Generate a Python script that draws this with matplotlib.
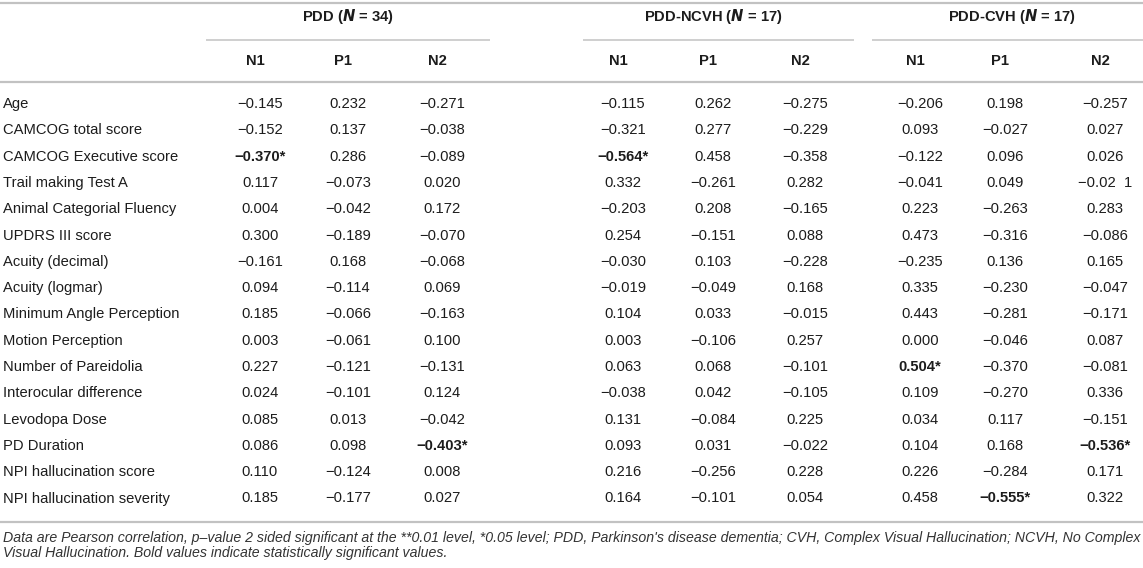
import matplotlib.pyplot as plt

# Table content
groups = ["PDD", "PDD-NCVH", "PDD-CVH"]
group_n = [34, 17, 17]
components = ["N1", "P1", "N2"]

row_labels = [
    "Age", "CAMCOG total score", "CAMCOG Executive score", "Trail making Test A",
    "Animal Categorial Fluency", "UPDRS III score", "Acuity (decimal)",
    "Acuity (logmar)", "Minimum Angle Perception", "Motion Perception",
    "Number of Pareidolia", "Interocular difference", "Levodopa Dose",
    "PD Duration", "NPI hallucination score", "NPI hallucination severity",
]

values = [
    ["−0.145", "0.232", "−0.271", "−0.115", "0.262", "−0.275", "−0.206", "0.198", "−0.257"],
    ["−0.152", "0.137", "−0.038", "−0.321", "0.277", "−0.229", "0.093", "−0.027", "0.027"],
    ["−0.370*", "0.286", "−0.089", "−0.564*", "0.458", "−0.358", "−0.122", "0.096", "0.026"],
    ["0.117", "−0.073", "0.020", "0.332", "−0.261", "0.282", "−0.041", "0.049", "−0.02  1"],
    ["0.004", "−0.042", "0.172", "−0.203", "0.208", "−0.165", "0.223", "−0.263", "0.283"],
    ["0.300", "−0.189", "−0.070", "0.254", "−0.151", "0.088", "0.473", "−0.316", "−0.086"],
    ["−0.161", "0.168", "−0.068", "−0.030", "0.103", "−0.228", "−0.235", "0.136", "0.165"],
    ["0.094", "−0.114", "0.069", "−0.019", "−0.049", "0.168", "0.335", "−0.230", "−0.047"],
    ["0.185", "−0.066", "−0.163", "0.104", "0.033", "−0.015", "0.443", "−0.281", "−0.171"],
    ["0.003", "−0.061", "0.100", "0.003", "−0.106", "0.257", "0.000", "−0.046", "0.087"],
    ["0.227", "−0.121", "−0.131", "0.063", "0.068", "−0.101", "0.504*", "−0.370", "−0.081"],
    ["0.024", "−0.101", "0.124", "−0.038", "0.042", "−0.105", "0.109", "−0.270", "0.336"],
    ["0.085", "0.013", "−0.042", "0.131", "−0.084", "0.225", "0.034", "0.117", "−0.151"],
    ["0.086", "0.098", "−0.403*", "0.093", "0.031", "−0.022", "0.104", "0.168", "−0.536*"],
    ["0.110", "−0.124", "0.008", "0.216", "−0.256", "0.228", "0.226", "−0.284", "0.171"],
    ["0.185", "−0.177", "0.027", "0.164", "−0.101", "0.054", "0.458", "−0.555*", "0.322"],
]

footnote = [
    "Data are Pearson correlation, p–value 2 sided significant at the **0.01 level, *0.05 level; "
    "PDD, Parkinson's disease dementia; CVH, Complex Visual Hallucination; NCVH, No Complex",
    "Visual Hallucination. Bold values indicate statistically significant values.",
]

plt.rcParams['font.family'] = ['Liberation Sans', 'DejaVu Sans']

W, H = 1143, 568
fig = plt.figure(figsize=(W / 100, H / 100), dpi=100)
ax = fig.add_axes([0, 0, 1, 1])
ax.set_xlim(0, W)
ax.set_ylim(H, 0)
ax.axis('off')

txt = '#1c1c1c'
rule = '#c2c2c2'
fs = 10.6

col_x = [260, 348, 442, 623, 713, 805, 920, 1005, 1105]
group_spans = [(206, 490), (583, 854), (872, W)]
group_x = [348, 713, 1012]

# horizontal rules
for y in (3, 82, 522):
    ax.plot([0, W], [y, y], color=rule, lw=1.6, solid_capstyle='butt')

# group headers with underline
for g, n, gx, (x0, x1) in zip(groups, group_n, group_x, group_spans):
    ax.text(gx, 17, f"{g} ($\\mathbfit{{N}}$ = {n})", ha='center', va='center',
            fontsize=fs, fontweight='bold', color=txt)
    ax.plot([x0, x1], [40, 40], color=rule, lw=1.1, solid_capstyle='butt')

# component headers
for i, x in enumerate(col_x):
    ax.text(x - 5, 61, components[i % 3], ha='center', va='center',
            fontsize=fs, fontweight='bold', color=txt)

# body rows
row_y0, row_dy = 104, 26.3
for r, (label, vals) in enumerate(zip(row_labels, values)):
    y = row_y0 + r * row_dy
    ax.text(3, y, label, ha='left', va='center', fontsize=fs, color=txt)
    for x, v in zip(col_x, vals):
        ax.text(x, y, v, ha='center', va='center', fontsize=fs, color=txt,
                fontweight='bold' if v.endswith('*') else 'normal')

# footnote, first line fitted to the table width
fn_fs = 8.4
t0 = ax.text(3, 538, footnote[0], ha='left', va='center', fontsize=fn_fs,
             style='italic', color='#333333')
fig.canvas.draw()
w = t0.get_window_extent().width
fn_fs = fn_fs * (W - 6) / w
t0.set_fontsize(fn_fs)
ax.text(3, 553, footnote[1], ha='left', va='center', fontsize=fn_fs,
        style='italic', color='#333333')

fig.savefig('out.png', dpi=100)
